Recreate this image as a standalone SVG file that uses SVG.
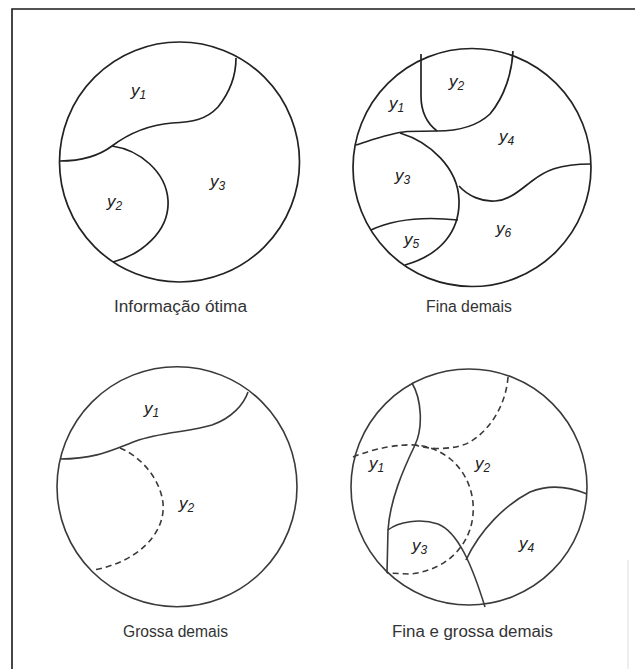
<svg xmlns="http://www.w3.org/2000/svg" width="635" height="669" viewBox="0 0 635 669">
<style>
.c{fill:none;stroke:#222;stroke-width:1.7}
.b{fill:none;stroke:#3a3a3a;stroke-width:1.6}
.d{fill:none;stroke:#3a3a3a;stroke-width:1.6;stroke-dasharray:6 4}
.lbl{font-family:"Liberation Sans",Arial,sans-serif;font-size:16px;fill:#333;text-anchor:middle}
.y{font-family:"Liberation Sans",Arial,sans-serif;font-style:italic;font-size:17px;fill:#222}
.s{font-size:12px}
.frame{fill:none;stroke:#1a1a1a;stroke-width:1.6}
</style>
<rect width="635" height="669" fill="#fff"/>
<g id="frame">
<path class="frame" d="M12,669 L12,9 L635,9"/>
<path d="M628,560 L628,669" stroke="#ddd" stroke-width="1" fill="none"/>
</g>
<g id="optima">
<circle class="c" cx="179.5" cy="162" r="120"/>
<path class="c" d="M236,58 C236,75 230,92 218,107 C206,120 192,122 172,123 C148,125 128,134 112,146 C100,155 85,161 60,161"/>
<path class="c" d="M112,146 C140,150 166,172 168,200 C170,232 140,255 113,262"/>
<text class="y" x="131" y="96">y<tspan class="s" dy="3">1</tspan></text>
<text class="y" x="107" y="207">y<tspan class="s" dy="3">2</tspan></text>
<text class="y" x="210" y="187">y<tspan class="s" dy="3">3</tspan></text>
<text class="lbl" x="180.5" y="312" textLength="133" lengthAdjust="spacingAndGlyphs">Informação ótima</text>
</g>
<g id="fina">
<circle class="c" cx="472" cy="167.5" r="119"/>
<path class="c" d="M421,54 L421,96 C421,112 428,124 437,131"/>
<path class="c" d="M513,51 C512,72 505,96 490,114 C475,128 455,131 437,131"/>
<path class="c" d="M437,131 L407,131.5 C390,133 372,140 356,145"/>
<path class="c" d="M400,133 C430,142 458,168 459,200 C460,232 440,255 405,265"/>
<path class="c" d="M371,230 C390,221 420,216 458,220"/>
<path class="c" d="M459,186 C468,196 482,202 495,201 C510,200 520,190 532,181 C545,171 558,164 591,164"/>
<text class="y" x="449" y="87">y<tspan class="s" dy="3">2</tspan></text>
<text class="y" x="389" y="109">y<tspan class="s" dy="3">1</tspan></text>
<text class="y" x="499" y="142">y<tspan class="s" dy="3">4</tspan></text>
<text class="y" x="395" y="181">y<tspan class="s" dy="3">3</tspan></text>
<text class="y" x="404" y="245">y<tspan class="s" dy="3">5</tspan></text>
<text class="y" x="496" y="234">y<tspan class="s" dy="3">6</tspan></text>
<text class="lbl" x="469" y="312" textLength="86" lengthAdjust="spacingAndGlyphs">Fina demais</text>
</g>
<g id="grossa">
<circle class="b" cx="177" cy="486.7" r="120"/>
<path class="b" d="M248,392 C244,404 232,418 212,425 C190,432 160,432 136,441 C112,450 96,459 60,459"/>
<path class="d" d="M120,448 C140,456 160,478 163,503 C166,535 135,563 93,570"/>
<text class="y" x="144" y="414">y<tspan class="s" dy="3">1</tspan></text>
<text class="y" x="179" y="509">y<tspan class="s" dy="3">2</tspan></text>
<text class="lbl" x="175.5" y="637" textLength="105" lengthAdjust="spacingAndGlyphs">Grossa demais</text>
</g>
<g id="finagrossa">
<circle class="b" cx="469" cy="487" r="118"/>
<path class="b" d="M412,383 C422,400 423,428 415,445 C403,470 390,500 388,530 L387,573"/>
<path class="d" d="M353,457 C375,448 400,444 415,445 C445,447 470,470 473,503 C476,540 450,570 410,574 L387,573"/>
<path class="d" d="M508,377 C506,405 490,430 470,442 C455,450 430,450 415,445"/>
<path class="b" d="M388,530 C398,522 420,518 438,524 C458,532 472,565 485,607"/>
<path class="b" d="M466,560 C480,530 505,505 530,492 C550,484 570,487 587,494"/>
<text class="y" x="369" y="469">y<tspan class="s" dy="3">1</tspan></text>
<text class="y" x="475" y="469">y<tspan class="s" dy="3">2</tspan></text>
<text class="y" x="412" y="551">y<tspan class="s" dy="3">3</tspan></text>
<text class="y" x="519" y="549">y<tspan class="s" dy="3">4</tspan></text>
<text class="lbl" x="472.5" y="637" textLength="161" lengthAdjust="spacingAndGlyphs">Fina e grossa demais</text>
</g>
</svg>
